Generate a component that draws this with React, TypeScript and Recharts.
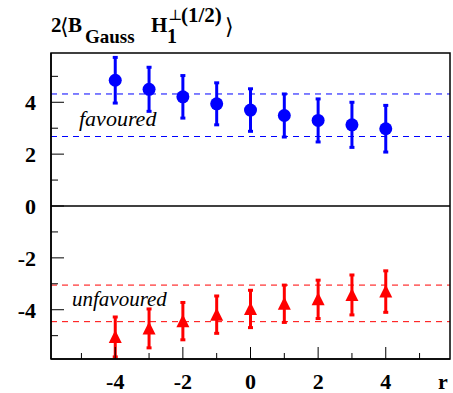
import React from 'react';
import { ComposedChart, Scatter, ErrorBar, XAxis, YAxis, ReferenceLine } from 'recharts';

const rValues = [-4, -3, -2, -1, 0, 1, 2, 3, 4];
const favouredValues = [4.85, 4.5, 4.21, 3.94, 3.7, 3.49, 3.3, 3.13, 2.98];
const favouredErrors = [0.88, 0.85, 0.82, 0.81, 0.82, 0.83, 0.83, 0.87, 0.9];
const unfavouredValues = [-5.05, -4.72, -4.44, -4.19, -3.97, -3.77, -3.6, -3.43, -3.3];
const unfavouredErrors = [0.77, 0.75, 0.72, 0.72, 0.72, 0.72, 0.74, 0.77, 0.8];
const favouredBand = [4.32, 2.68];
const unfavouredBand = [-3.05, -4.46];
const axisTicks = [-5, -4, -3, -2, -1, 0, 1, 2, 3, 4, 5];
const domain: [number, number] = [-5.9, 5.9];

const favouredData = rValues.map((r, i) => ({ r, v: favouredValues[i], err: favouredErrors[i] }));
const unfavouredData = rValues.map((r, i) => ({ r, v: unfavouredValues[i], err: unfavouredErrors[i] }));

const serif = { fontFamily: "'Liberation Serif', 'DejaVu Serif', serif" };
const isMajor = (v: number) => v % 2 === 0;

const BottomTick = (props: any) => {
  const { x, y, payload } = props;
  const v = payload.value;
  const len = isMajor(v) ? 12 : 6;
  return (
    <g>
      <line x1={x} y1={y} x2={x} y2={y - len} stroke="#000" />
      {isMajor(v) && (
        <text x={x} y={y + 30} textAnchor="middle" style={serif} fontWeight="bold" fontSize={22} fill="#000">
          {v}
        </text>
      )}
    </g>
  );
};

const TopTick = (props: any) => {
  const { x, y, payload } = props;
  const len = isMajor(payload.value) ? 12 : 6;
  return <line x1={x} y1={y} x2={x} y2={y + len} stroke="#000" />;
};

const LeftTick = (props: any) => {
  const { x, y, payload } = props;
  const v = payload.value;
  const len = isMajor(v) ? 13 : 7;
  return (
    <g>
      <line x1={x} y1={y} x2={x + len} y2={y} stroke="#000" />
      {isMajor(v) && (
        <text x={x - 15} y={y + 8} textAnchor="end" style={serif} fontWeight="bold" fontSize={22} fill="#000">
          {v}
        </text>
      )}
    </g>
  );
};

const RightTick = (props: any) => {
  const { x, y, payload } = props;
  const len = isMajor(payload.value) ? 13 : 7;
  return <line x1={x} y1={y} x2={x - len} y2={y} stroke="#000" />;
};

const Dot = (props: any) => <circle cx={props.cx} cy={props.cy} r={6.5} fill="#0000ff" />;

const Triangle = (props: any) => {
  const { cx, cy } = props;
  return <polygon points={`${cx},${cy - 7} ${cx - 6.5},${cy + 6} ${cx + 6.5},${cy + 6}`} fill="#ff0000" />;
};

const axisCommon = {
  type: 'number' as const,
  domain,
  allowDataOverflow: true,
  ticks: axisTicks,
  interval: 0 as const,
  tickSize: 0,
  tickMargin: 0,
  tickLine: false,
  axisLine: { stroke: '#000', strokeWidth: 1.5 },
};

export default function App() {
  return (
    <div style={{ position: 'absolute', left: 0, top: 0, width: 453, height: 393, background: '#fff' }}>
      <ComposedChart width={453} height={393} margin={{ top: 53, right: 3, left: 0, bottom: 0 }}>
        <XAxis xAxisId="b" dataKey="r" height={34} tick={<BottomTick />} {...axisCommon} />
        <XAxis xAxisId="t" dataKey="r" orientation="top" height={0} tick={<TopTick />} {...axisCommon} />
        <YAxis yAxisId="l" width={51} tick={<LeftTick />} {...axisCommon} />
        <YAxis yAxisId="rt" orientation="right" width={0} tick={<RightTick />} {...axisCommon} />
        <ReferenceLine xAxisId="b" yAxisId="l" y={0} stroke="#000" strokeWidth={1.5} />
        {favouredBand.map((y) => (
          <ReferenceLine key={`f${y}`} xAxisId="b" yAxisId="l" y={y} stroke="#0000ff" strokeDasharray="6 5" />
        ))}
        {unfavouredBand.map((y) => (
          <ReferenceLine key={`u${y}`} xAxisId="b" yAxisId="l" y={y} stroke="#ff0000" strokeDasharray="6 5" />
        ))}
        <Scatter xAxisId="t" yAxisId="rt" data={favouredData} dataKey="v" shape={() => <g />} isAnimationActive={false} />
        <Scatter xAxisId="b" yAxisId="l" data={favouredData} dataKey="v" shape={<Dot />} isAnimationActive={false}>
          <ErrorBar dataKey="err" direction="y" width={2.5} stroke="#0000ff" strokeWidth={3} />
        </Scatter>
        <Scatter xAxisId="b" yAxisId="l" data={unfavouredData} dataKey="v" shape={<Triangle />} isAnimationActive={false}>
          <ErrorBar dataKey="err" direction="y" width={2.5} stroke="#ff0000" strokeWidth={3} />
        </Scatter>
      </ComposedChart>
      <svg width={453} height={393} style={{ position: 'absolute', left: 0, top: 0, pointerEvents: 'none' }}>
        {/* plot frame */}
        <rect x={51} y={53} width={399} height={306} fill="none" stroke="#000" strokeWidth={1.5} />
        <g style={serif} fontWeight="bold" fill="#000">
          <text x={51} y={32} fontSize={21}>2</text>
          <text x={60} y={34} fontSize={22} fontWeight="normal">⟨</text>
          <text x={68} y={32} fontSize={21}>B</text>
          <text x={85} y={42.5} fontSize={19}>Gauss</text>
          <text x={151} y={32} fontSize={21}>H</text>
          <text x={167} y={42.5} fontSize={20}>1</text>
          <text x={168} y={20} fontSize={15} fontWeight="normal">⊥</text>
          <text x={181} y={22} fontSize={21}>(1/2)</text>
          <text x={225} y={34} fontSize={22} fontWeight="normal">⟩</text>
          <text x={438} y={389} fontSize={22}>r</text>
        </g>
        <g style={serif} fontStyle="italic" fill="#000">
          <text x={79} y={126} fontSize={22}>favoured</text>
          <text x={72} y={306} fontSize={21}>unfavoured</text>
        </g>
      </svg>
    </div>
  );
}
